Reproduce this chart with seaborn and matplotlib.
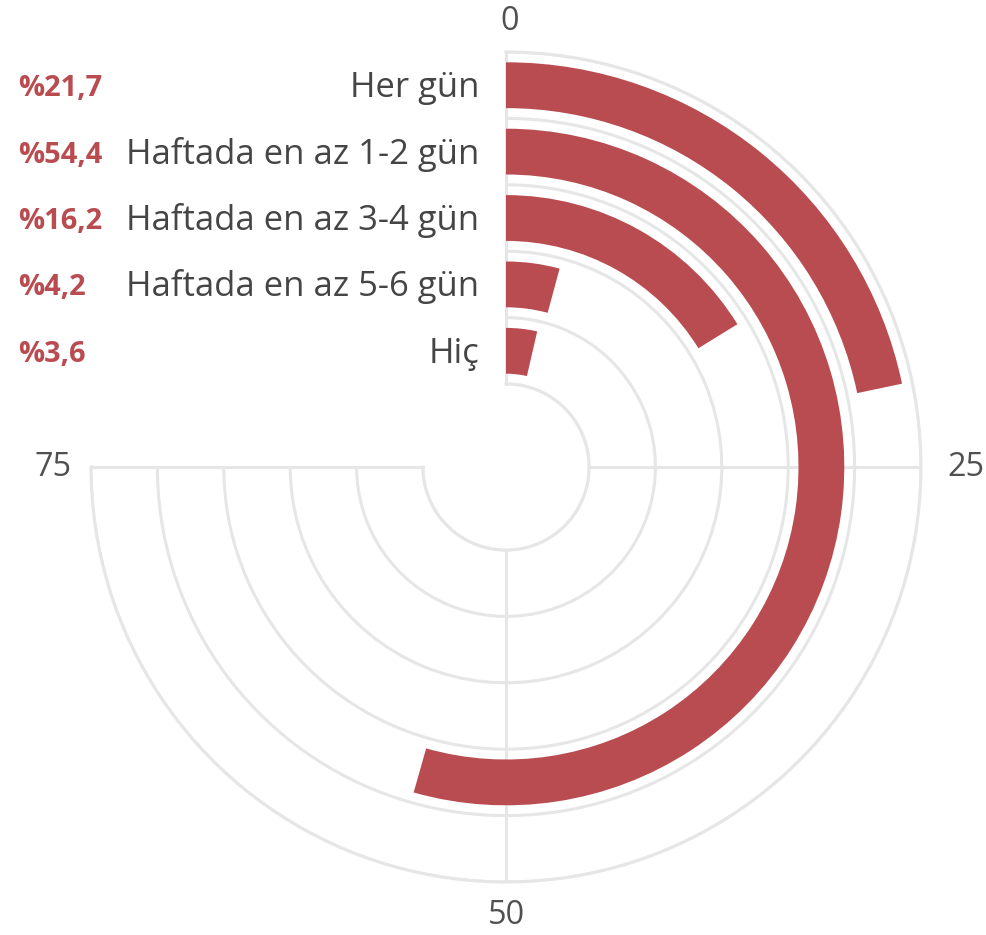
import numpy as np
import matplotlib
matplotlib.use("Agg")
import matplotlib.pyplot as plt
import seaborn as sns

# ---- data ----
categories = ["Her gün", "Haftada en az 1-2 gün", "Haftada en az 3-4 gün",
              "Haftada en az 5-6 gün", "Hiç"]
values = [21.7, 54.4, 16.2, 4.2, 3.6]
pct_labels = ["%21,7", "%54,4", "%16,2", "%4,2", "%3,6"]
tick_values = [0, 25, 50, 75]
tick_labels = ["0", "25", "50", "75"]
scale_max = 100

sns.set_style("white")
FONT = ["Open Sans", "DejaVu Sans"]
plt.rcParams["font.family"] = FONT

BAR = "#b94c50"
GRID = "#e6e6e6"
TXT = "#454545"
TICK = "#505050"

W, H = 987, 935
fig = plt.figure(figsize=(W / 100, H / 100), dpi=100)
cx, cy, R = 506, 467, 415          # target centre (from top) and outer radius, px
inner = 83
n = len(categories)
band = (R - inner) / n
rorig = -inner / band

pos = [(cx - R) / W, (H - cy - R) / H, 2 * R / W, 2 * R / H]
ax = fig.add_axes(pos, projection="polar")
ax.set_theta_offset(np.pi / 2)
ax.set_theta_direction(-1)
ax.set_thetamin(0)
ax.set_thetamax(270)
ax.set_rorigin(rorig)
ax.set_ylim(0, n)

r_pos = [n - 0.5 - i for i in range(n)]
thetas = [v / scale_max * 2 * np.pi for v in values]
ax.barh(r_pos, thetas, left=0, height=0.69, color=BAR, edgecolor="none", zorder=3)

ax.set_xticks([t / scale_max * 2 * np.pi for t in tick_values])
ax.set_xticklabels([])
ax.set_yticks(range(0, n + 1))
ax.set_yticklabels([])
ax.grid(True, color=GRID, linewidth=2.2, zorder=0)
for s in ax.spines.values():
    s.set_color(GRID)
    s.set_linewidth(2.2)
ax.tick_params(length=0)

# correct the axes placement so the centre / radius land on target pixels
for _ in range(3):
    fig.canvas.draw()
    c = ax.transData.transform((0, rorig))
    e = ax.transData.transform((np.pi / 2, n))
    r_now = e[0] - c[0]
    k = R / r_now
    bb = ax.get_position()
    wpx, hpx = bb.width * W * k, bb.height * H * k
    offx = (c[0] - bb.x0 * W) * k
    offy = (c[1] - bb.y0 * H) * k
    x0 = cx - offx
    y0 = (H - cy) - offy
    ax.set_position([x0 / W, y0 / H, wpx / W, hpx / H])

fig.canvas.draw()
renderer = fig.canvas.get_renderer()

def fit(txt, target_w, weight="normal", start=20):
    t = fig.text(0, 0, txt, fontsize=start, fontweight=weight)
    w = t.get_window_extent(renderer).width
    t.remove()
    return start * target_w / w

fs_cat = fit("Haftada en az 1-2 gün", 352, weight="medium")
fs_pct = fit("%54,4", 84, weight="bold")
fs_tick = fit("75", 37, weight="medium")

offsets = {0: (4, 31), 25: (45, 0), 50: (0, -33), 75: (-38, 0)}
for tv, tl in zip(tick_values, tick_labels):
    dx, dy = offsets[tv]
    ax.annotate(tl, xy=(tv / scale_max * 2 * np.pi, n), xycoords="data",
                xytext=(dx, dy), textcoords="offset pixels",
                ha="center", va="center", fontsize=fs_tick, fontweight="medium",
                color=TICK, annotation_clip=False)

for r, cat, pl in zip(r_pos, categories, pct_labels):
    ax.annotate(cat, xy=(0, r), xycoords="data", xytext=(-27, -12),
                textcoords="offset pixels", ha="right", va="baseline",
                fontsize=fs_cat, fontweight="medium", color=TXT,
                annotation_clip=False)
    ax.annotate(pl, xy=(0, r), xycoords="data", xytext=(18 - cx, -11),
                textcoords="offset pixels", ha="left", va="baseline",
                fontsize=fs_pct, fontweight="bold", color=BAR,
                annotation_clip=False)

fig.savefig("out.png", dpi=100)
